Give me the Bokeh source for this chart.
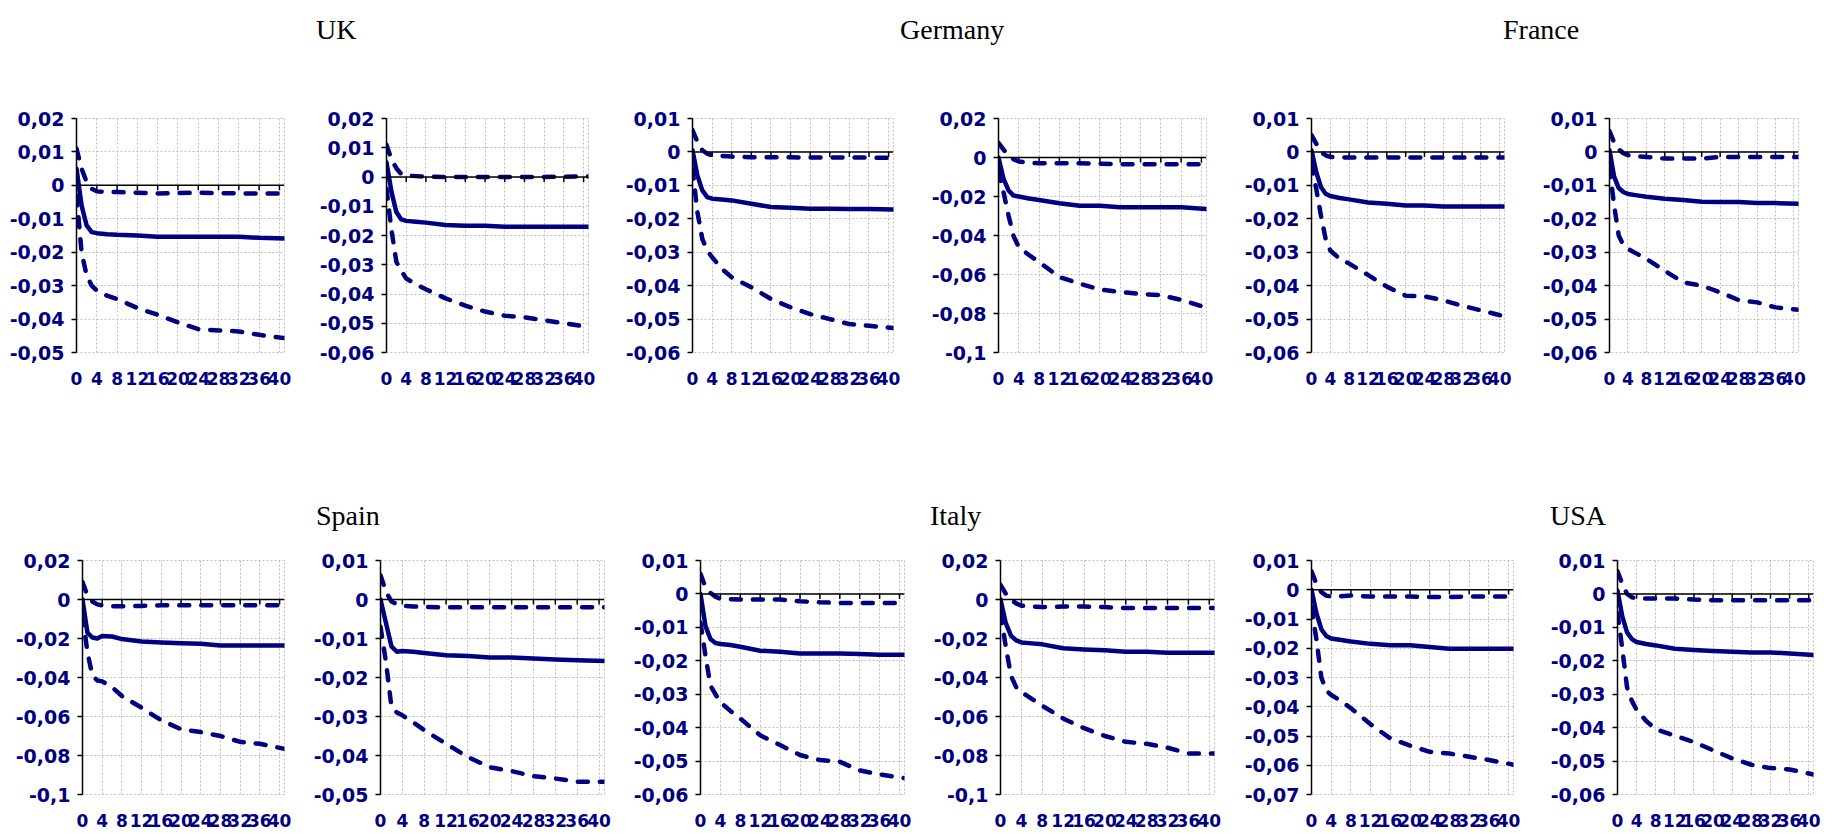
from bokeh.plotting import figure
from bokeh.models import Range1d, FixedTicker, Span, Div
from bokeh.layouts import column, row
from bokeh.embed import file_html
from bokeh.resources import INLINE

NAVY = "#000080"
GRID = "#bfbfbf"
TICK_FONT = "DejaVu Sans"
TITLE_FONT = "Liberation Serif"

# ---------------- data ----------------
horizons = [0, 1, 2, 3, 4, 6, 8, 12, 16, 20, 24, 28, 32, 36, 41]
x_ticks = [0, 4, 8, 12, 16, 20, 24, 28, 32, 36, 40]
x_tick_labels = ["0", "4", "8", "12", "16", "20", "24", "28", "32", "36", "40"]

titles_top = ["UK", "Germany", "France"]
titles_bottom = ["Spain", "Italy", "USA"]

y_ticks_2_5 = [0.02, 0.01, 0.0, -0.01, -0.02, -0.03, -0.04, -0.05]
y_labels_2_5 = ["0,02", "0,01", "0", "-0,01", "-0,02", "-0,03", "-0,04", "-0,05"]
y_ticks_2_6 = [0.02, 0.01, 0.0, -0.01, -0.02, -0.03, -0.04, -0.05, -0.06]
y_labels_2_6 = ["0,02", "0,01", "0", "-0,01", "-0,02", "-0,03", "-0,04", "-0,05", "-0,06"]
y_ticks_1_6 = [0.01, 0.0, -0.01, -0.02, -0.03, -0.04, -0.05, -0.06]
y_labels_1_6 = ["0,01", "0", "-0,01", "-0,02", "-0,03", "-0,04", "-0,05", "-0,06"]
y_ticks_2_10 = [0.02, 0.0, -0.02, -0.04, -0.06, -0.08, -0.1]
y_labels_2_10 = ["0,02", "0", "-0,02", "-0,04", "-0,06", "-0,08", "-0,1"]
y_ticks_1_5 = [0.01, 0.0, -0.01, -0.02, -0.03, -0.04, -0.05]
y_labels_1_5 = ["0,01", "0", "-0,01", "-0,02", "-0,03", "-0,04", "-0,05"]
y_ticks_1_7 = [0.01, 0.0, -0.01, -0.02, -0.03, -0.04, -0.05, -0.06, -0.07]
y_labels_1_7 = ["0,01", "0", "-0,01", "-0,02", "-0,03", "-0,04", "-0,05", "-0,06", "-0,07"]

uk_1_upper = [0.011, 0.005, 0.001, -0.001, -0.0018, -0.002, -0.002, -0.0022, -0.0024, -0.0023, -0.0022, -0.0023, -0.0024, -0.0024, -0.0024]
uk_1_irf = [0.005, -0.006, -0.012, -0.014, -0.0143, -0.0146, -0.0148, -0.0150, -0.0154, -0.0154, -0.0154, -0.0154, -0.0154, -0.0157, -0.0159]
uk_1_lower = [-0.003, -0.020, -0.027, -0.030, -0.0315, -0.033, -0.034, -0.0367, -0.0387, -0.041, -0.043, -0.0434, -0.0437, -0.0447, -0.0457]

uk_2_upper = [0.011, 0.006, 0.003, 0.001, 0.0005, 0.0003, 0.0001, 0.0, 0.0, 0.0, 0.0, 0.0, 0.0, 0.0001, 0.0002]
uk_2_irf = [0.005, -0.005, -0.012, -0.0145, -0.015, -0.0153, -0.0156, -0.0164, -0.0167, -0.0167, -0.017, -0.017, -0.017, -0.017, -0.017]
uk_2_lower = [-0.004, -0.018, -0.029, -0.032, -0.0347, -0.0367, -0.0384, -0.0415, -0.044, -0.046, -0.0474, -0.048, -0.049, -0.050, -0.0513]

de_1_upper = [0.0065, 0.003, 0.0005, -0.0005, -0.001, -0.0012, -0.0014, -0.0016, -0.0016, -0.0016, -0.0017, -0.0017, -0.0017, -0.0017, -0.0018]
de_1_irf = [0.0005, -0.007, -0.0115, -0.0135, -0.014, -0.0142, -0.0145, -0.0155, -0.0165, -0.0167, -0.017, -0.017, -0.0171, -0.0171, -0.0172]
de_1_lower = [-0.005, -0.018, -0.026, -0.0295, -0.0315, -0.035, -0.0375, -0.0405, -0.044, -0.0465, -0.0485, -0.050, -0.0515, -0.052, -0.0527]

de_2_upper = [0.0075, 0.004, 0.001, -0.001, -0.002, -0.0027, -0.003, -0.003, -0.003, -0.0032, -0.0035, -0.0035, -0.0035, -0.0035, -0.0035]
de_2_irf = [0.0, -0.011, -0.017, -0.0195, -0.020, -0.021, -0.0218, -0.0235, -0.0247, -0.0247, -0.0255, -0.0255, -0.0255, -0.0255, -0.0264]
de_2_lower = [-0.007, -0.018, -0.030, -0.0405, -0.046, -0.050, -0.0536, -0.0613, -0.0647, -0.0677, -0.069, -0.070, -0.0706, -0.073, -0.077]

fr_1_upper = [0.005, 0.0025, 0.0, -0.001, -0.0015, -0.0016, -0.0017, -0.0017, -0.0017, -0.0017, -0.0017, -0.0017, -0.0017, -0.0017, -0.0017]
fr_1_irf = [0.0005, -0.006, -0.0105, -0.0125, -0.0132, -0.0138, -0.0142, -0.0151, -0.0155, -0.016, -0.016, -0.0163, -0.0163, -0.0163, -0.0163]
fr_1_lower = [-0.0035, -0.011, -0.019, -0.026, -0.0295, -0.032, -0.0334, -0.0368, -0.0403, -0.043, -0.0432, -0.0444, -0.046, -0.0474, -0.0492]

fr_2_upper = [0.0062, 0.0028, 0.0008, -0.0004, -0.001, -0.0013, -0.0015, -0.002, -0.002, -0.002, -0.0015, -0.0015, -0.0015, -0.0015, -0.0015]
fr_2_irf = [0.0005, -0.0074, -0.0108, -0.012, -0.0126, -0.013, -0.0134, -0.014, -0.0144, -0.0149, -0.015, -0.015, -0.0153, -0.0153, -0.0155]
fr_2_lower = [-0.0045, -0.016, -0.025, -0.0278, -0.029, -0.0305, -0.032, -0.0356, -0.039, -0.040, -0.042, -0.0443, -0.045, -0.0465, -0.0472]

es_1_upper = [0.009, 0.002, -0.001, -0.0025, -0.003, -0.0034, -0.0035, -0.0033, -0.003, -0.003, -0.003, -0.003, -0.003, -0.003, -0.003]
es_1_irf = [0.0, -0.017, -0.0195, -0.020, -0.0187, -0.019, -0.0203, -0.0215, -0.022, -0.0224, -0.0227, -0.0236, -0.0236, -0.0236, -0.0236]
es_1_lower = [-0.008, -0.027, -0.039, -0.0415, -0.042, -0.045, -0.0495, -0.0555, -0.062, -0.0665, -0.068, -0.070, -0.073, -0.074, -0.0766]

es_2_upper = [0.0062, 0.002, -0.0005, -0.0012, -0.0016, -0.0018, -0.0019, -0.002, -0.002, -0.002, -0.002, -0.002, -0.002, -0.002, -0.002]
es_2_irf = [0.0, -0.006, -0.012, -0.0134, -0.0132, -0.0134, -0.0137, -0.0143, -0.0145, -0.0149, -0.0149, -0.0151, -0.0154, -0.0156, -0.0158]
es_2_lower = [-0.007, -0.016, -0.0275, -0.029, -0.0297, -0.0315, -0.0335, -0.037, -0.0404, -0.043, -0.044, -0.0453, -0.0459, -0.0467, -0.0467]

it_1_upper = [0.006, 0.002, 0.0003, -0.0008, -0.0015, -0.0016, -0.0017, -0.0017, -0.0017, -0.0022, -0.0025, -0.0027, -0.0027, -0.0027, -0.0027]
it_1_irf = [0.0, -0.0096, -0.0135, -0.0147, -0.015, -0.0153, -0.0158, -0.017, -0.0173, -0.0178, -0.0178, -0.0178, -0.018, -0.0182, -0.0182]
it_1_lower = [-0.0086, -0.0185, -0.0274, -0.030, -0.0324, -0.035, -0.0373, -0.0423, -0.0452, -0.0482, -0.0497, -0.0502, -0.0528, -0.054, -0.0551]

it_2_upper = [0.0075, 0.003, 0.0, -0.002, -0.0032, -0.0036, -0.0039, -0.0036, -0.0036, -0.0039, -0.0044, -0.0044, -0.0044, -0.0044, -0.0044]
it_2_irf = [0.0, -0.012, -0.0185, -0.021, -0.022, -0.0225, -0.023, -0.025, -0.0256, -0.026, -0.0268, -0.0268, -0.0273, -0.0273, -0.0273]
it_2_lower = [-0.007, -0.024, -0.039, -0.045, -0.0475, -0.051, -0.0545, -0.061, -0.066, -0.070, -0.073, -0.074, -0.076, -0.079, -0.079]

us_1_upper = [0.0063, 0.002, -0.0008, -0.002, -0.0023, -0.0022, -0.002, -0.0023, -0.0023, -0.0023, -0.0025, -0.0025, -0.0023, -0.0023, -0.0023]
us_1_irf = [0.0, -0.008, -0.0135, -0.0158, -0.0167, -0.0172, -0.0177, -0.0185, -0.019, -0.019, -0.0196, -0.0202, -0.0202, -0.0202, -0.0202]
us_1_lower = [-0.006, -0.017, -0.030, -0.0345, -0.036, -0.038, -0.0405, -0.046, -0.0508, -0.0533, -0.0554, -0.056, -0.0571, -0.0582, -0.0598]

us_2_upper = [0.0068, 0.003, 0.0, -0.001, -0.0014, -0.0014, -0.0014, -0.0014, -0.0017, -0.0019, -0.0019, -0.0019, -0.0019, -0.0019, -0.0019]
us_2_irf = [0.001, -0.0067, -0.0115, -0.0135, -0.0144, -0.015, -0.0154, -0.0164, -0.0168, -0.0171, -0.0173, -0.0175, -0.0175, -0.0178, -0.0183]
us_2_lower = [-0.0057, -0.0164, -0.028, -0.032, -0.0347, -0.038, -0.0405, -0.0424, -0.0443, -0.0468, -0.0492, -0.0511, -0.0521, -0.0525, -0.054]

panels_top = [
    (uk_1_upper, uk_1_irf, uk_1_lower, y_ticks_2_5, y_labels_2_5),
    (uk_2_upper, uk_2_irf, uk_2_lower, y_ticks_2_6, y_labels_2_6),
    (de_1_upper, de_1_irf, de_1_lower, y_ticks_1_6, y_labels_1_6),
    (de_2_upper, de_2_irf, de_2_lower, y_ticks_2_10, y_labels_2_10),
    (fr_1_upper, fr_1_irf, fr_1_lower, y_ticks_1_6, y_labels_1_6),
    (fr_2_upper, fr_2_irf, fr_2_lower, y_ticks_1_6, y_labels_1_6),
]
panels_bottom = [
    (es_1_upper, es_1_irf, es_1_lower, y_ticks_2_10, y_labels_2_10),
    (es_2_upper, es_2_irf, es_2_lower, y_ticks_1_5, y_labels_1_5),
    (it_1_upper, it_1_irf, it_1_lower, y_ticks_1_6, y_labels_1_6),
    (it_2_upper, it_2_irf, it_2_lower, y_ticks_2_10, y_labels_2_10),
    (us_1_upper, us_1_irf, us_1_lower, y_ticks_1_7, y_labels_1_7),
    (us_2_upper, us_2_irf, us_2_lower, y_ticks_1_6, y_labels_1_6),
]

# ---------------- layout (sizes in px) ----------------
# (width, border_left, border_right, border_top, border_bottom)
geom_top = [(300, 76, 16, 58, 48), (310, 86, 22, 58, 48), (305, 82, 22, 58, 48),
            (310, 83, 19, 58, 48), (305, 86, 26, 57, 48), (295, 79, 27, 57, 48)]
geom_bottom = [(305, 82, 21, 20, 38), (320, 75, 21, 20, 38), (300, 75, 21, 20, 38),
               (310, 75, 21, 20, 38), (300, 76, 22, 12, 39), (290, 82, 12, 12, 39)]
H_TOP, H_BOTTOM = 340, 293


def make_panel(data, geom, height, x_standoff):
    upper, irf, lower, yt, yl = data
    w, bl, br, bt, bb = geom
    y0, y1 = min(yt), max(yt)
    p = figure(width=w, height=height, x_range=Range1d(0, 41), y_range=Range1d(y0, y1),
               output_backend="svg", toolbar_location=None, title=None)
    p.min_border_left, p.min_border_right = bl, br
    p.min_border_top, p.min_border_bottom = bt, bb
    p.background_fill_color = "white"
    p.border_fill_color = "white"
    p.outline_line_color = GRID
    p.outline_line_dash = "2 2"
    p.outline_line_width = 1

    # x axis (labels only)
    xa = p.xaxis[0]
    xa.ticker = FixedTicker(ticks=x_ticks)
    xa.major_label_overrides = {t: s for t, s in zip(x_ticks, x_tick_labels)}
    xa.axis_line_color = None
    xa.major_tick_line_color = None
    xa.minor_tick_line_color = None
    xa.major_tick_out = 0
    xa.major_tick_in = 0
    xa.major_label_standoff = x_standoff
    xa.major_label_text_font = TICK_FONT
    xa.major_label_text_font_style = "bold"
    xa.major_label_text_font_size = "17px"
    xa.major_label_text_color = NAVY

    # y axis
    ya = p.yaxis[0]
    ya.ticker = FixedTicker(ticks=yt)
    ya.major_label_overrides = {t: s for t, s in zip(yt, yl)}
    ya.axis_line_color = "black"
    ya.axis_line_width = 1.5
    ya.major_tick_line_color = "black"
    ya.major_tick_line_width = 1.5
    ya.major_tick_out = 5
    ya.major_tick_in = 0
    ya.minor_tick_line_color = None
    ya.major_label_standoff = 7
    ya.major_label_text_font = TICK_FONT
    ya.major_label_text_font_style = "bold"
    ya.major_label_text_font_size = "19px"
    ya.major_label_text_color = NAVY

    for g in (p.xgrid[0], p.ygrid[0]):
        g.grid_line_color = GRID
        g.grid_line_dash = "2 2"
        g.grid_line_width = 1
    p.xgrid[0].ticker = FixedTicker(ticks=x_ticks)
    p.ygrid[0].ticker = FixedTicker(ticks=yt)

    # zero (category) axis line with downward tick marks
    p.add_layout(Span(location=0, dimension="width", line_color="black", line_width=1.5))
    frame_h = height - bt - bb
    tick_dy = 5 * (y1 - y0) / frame_h
    p.segment(x0=x_ticks, y0=[0] * len(x_ticks), x1=x_ticks, y1=[-tick_dy] * len(x_ticks),
              line_color="black", line_width=1.5)

    p.line(horizons, upper, line_color=NAVY, line_width=4.5, line_dash="10 12", line_cap="round")
    p.line(horizons, lower, line_color=NAVY, line_width=4.5, line_dash="10 12", line_cap="round")
    p.line(horizons, irf, line_color=NAVY, line_width=4.5, line_join="round", line_cap="round")
    return p


def title_div(names, lefts, top, height):
    spans = "".join(
        f'<span style="position:absolute;left:{x}px;top:{top}px;font-family:\'{TITLE_FONT}\';'
        f'font-size:28px;color:#000;white-space:nowrap;line-height:1">{n}</span>'
        for n, x in zip(names, lefts))
    return Div(text=f'<div style="position:relative;width:1825px;height:{height}px">{spans}</div>',
               width=1825, height=height, margin=(0, 0, 0, 0))


figs_top = [make_panel(d, g, H_TOP, 19) for d, g in zip(panels_top, geom_top)]
figs_bottom = [make_panel(d, g, H_BOTTOM, 19) for d, g in zip(panels_bottom, geom_bottom)]

div_top = title_div(titles_top, [316, 900, 1503], 16, 60)
div_bottom = title_div(titles_bottom, [316, 930, 1550], 102, 140)

layout = column(div_top, row(*figs_top, spacing=0), div_bottom, row(*figs_bottom, spacing=0), spacing=0)

open("out.html", "w").write(file_html(layout, INLINE))
